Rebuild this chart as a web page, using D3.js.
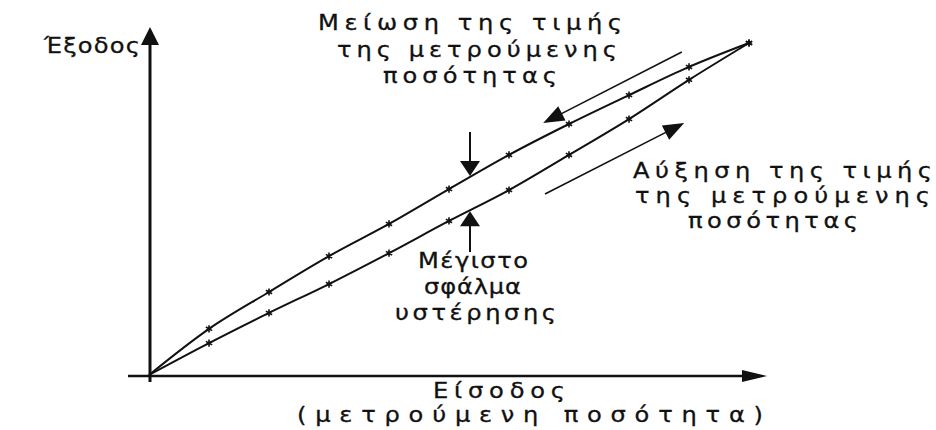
<!DOCTYPE html>
<html>
<head>
<meta charset="utf-8">
<script src="https://cdn.jsdelivr.net/npm/d3@7"></script>
<style>
  body { margin: 0; background: #fff; }
  text { font-family: "DejaVu Sans", Verdana, sans-serif; fill: #111; stroke: #111; stroke-width: 0.3px; }
</style>
</head>
<body>
<div id="chart"></div>
<script>
// input steps (μετρούμενη ποσότητα) and output readings
var inputs = [0, 1, 2, 3, 4, 5, 6, 7, 8, 9, 10];
var decreasing = [0, 1.39, 2.5, 3.58, 4.55, 5.6, 6.63, 7.56, 8.43, 9.28, 10];
var increasing = [0, 0.96, 1.87, 2.74, 3.67, 4.64, 5.57, 6.63, 7.71, 8.89, 10];

// where the max hysteresis error is marked
var maxErrorAt = 5.35;

// direction arrows beside the curves, [from, to] in data units
var downArrow = [[8.88, 9.73], [6.57, 7.59]];
var upArrow = [[6.6, 5.45], [8.92, 7.59]];

var labelTop = ["Μείωση της τιμής", "της μετρούμενης", "ποσότητας"];
var labelRight = ["Αύξηση της τιμής", "της μετρούμενης", "ποσότητας"];
var labelMid = ["Μέγιστο", "σφάλμα", "υστέρησης"];
var labelX = ["Είσοδος", "(μετρούμενη ποσότητα)"];
var labelY = "Έξοδος";

var width = 936, height = 430;

var svg = d3.select("#chart")
  .append("svg")
  .attr("width", width)
  .attr("height", height);

var x = d3.scaleLinear().domain([0, 10]).range([149, 749]);
var y = d3.scaleLinear().domain([0, 10]).range([375, 43]);

// draw a line with a filled triangle head at the end
function arrow(x1, y1, x2, y2, len, half, sw) {
  var dx = x2 - x1, dy = y2 - y1;
  var d = Math.sqrt(dx * dx + dy * dy);
  var ux = dx / d, uy = dy / d;
  var bx = x2 - ux * len, by = y2 - uy * len;
  svg.append("line")
    .attr("x1", x1).attr("y1", y1)
    .attr("x2", bx + ux * 2).attr("y2", by + uy * 2)
    .attr("stroke", "#111")
    .attr("stroke-width", sw);
  svg.append("path")
    .attr("d", "M" + x2 + "," + y2 +
      "L" + (bx - uy * half) + "," + (by + ux * half) +
      "L" + (bx + uy * half) + "," + (by - ux * half) + "Z")
    .attr("fill", "#111");
}

// axes
arrow(x(0) + 1, y(0) + 7, x(0) + 1, 27, 18, 9, 3);
arrow(128, y(0) + 1, 767, y(0) + 1, 25, 6, 2.5);

// curves
var line = d3.line()
  .x(function(d) { return x(d[0]); })
  .y(function(d) { return y(d[1]); })
  .curve(d3.curveMonotoneX);

var dec = inputs.map(function(v, i) { return [v, decreasing[i]]; });
var inc = inputs.map(function(v, i) { return [v, increasing[i]]; });

[dec, inc].forEach(function(series) {
  svg.append("path")
    .datum(series)
    .attr("d", line)
    .attr("fill", "none")
    .attr("stroke", "#111")
    .attr("stroke-width", 2);

  svg.selectAll(null)
    .data(series.slice(1))
    .enter()
    .append("path")
    .attr("d", d3.symbol().type(d3.symbolAsterisk).size(36))
    .attr("transform", function(d) { return "translate(" + x(d[0]) + "," + y(d[1]) + ")"; })
    .attr("fill", "none")
    .attr("stroke", "#111")
    .attr("stroke-width", 1.6);
});

// direction arrows
arrow(x(downArrow[0][0]), y(downArrow[0][1]), x(downArrow[1][0]), y(downArrow[1][1]), 21, 8, 1.6);
arrow(x(upArrow[0][0]), y(upArrow[0][1]), x(upArrow[1][0]), y(upArrow[1][1]), 21, 8, 1.6);

// max error arrows, tips on the curves
var interp = function(arr) { return d3.scaleLinear().domain(inputs).range(arr)(maxErrorAt); };
var topTip = interp(decreasing), botTip = interp(increasing);
arrow(x(maxErrorAt), 132, x(maxErrorAt), y(topTip) - 1, 15, 10, 2);
arrow(x(maxErrorAt), 252, x(maxErrorAt), y(botTip) + 1, 15, 10, 2);

// labels: [left, baseline, width], glyphs stretched a little sideways
var sx = 1.15;
function block(lines, pos) {
  lines.forEach(function(t, i) {
    svg.append("text")
      .attr("transform", "translate(" + pos[i][0] + "," + pos[i][1] + ") scale(" + sx + ",1)")
      .attr("textLength", pos[i][2] / sx)
      .attr("lengthAdjust", "spacing")
      .style("font-size", "21px")
      .text(t);
  });
}

block(labelTop, [[318, 30, 304], [337, 57, 280], [383, 83, 174]]);
block(labelRight, [[633, 178, 299], [635, 203, 295], [688, 228, 170]]);
block(labelMid, [[418, 268, 110], [424, 294, 97], [395, 320, 161]]);
block(labelX, [[433, 398, 132], [297, 422, 466]]);
block([labelY], [[44, 53, 96]]);
</script>
</body>
</html>
